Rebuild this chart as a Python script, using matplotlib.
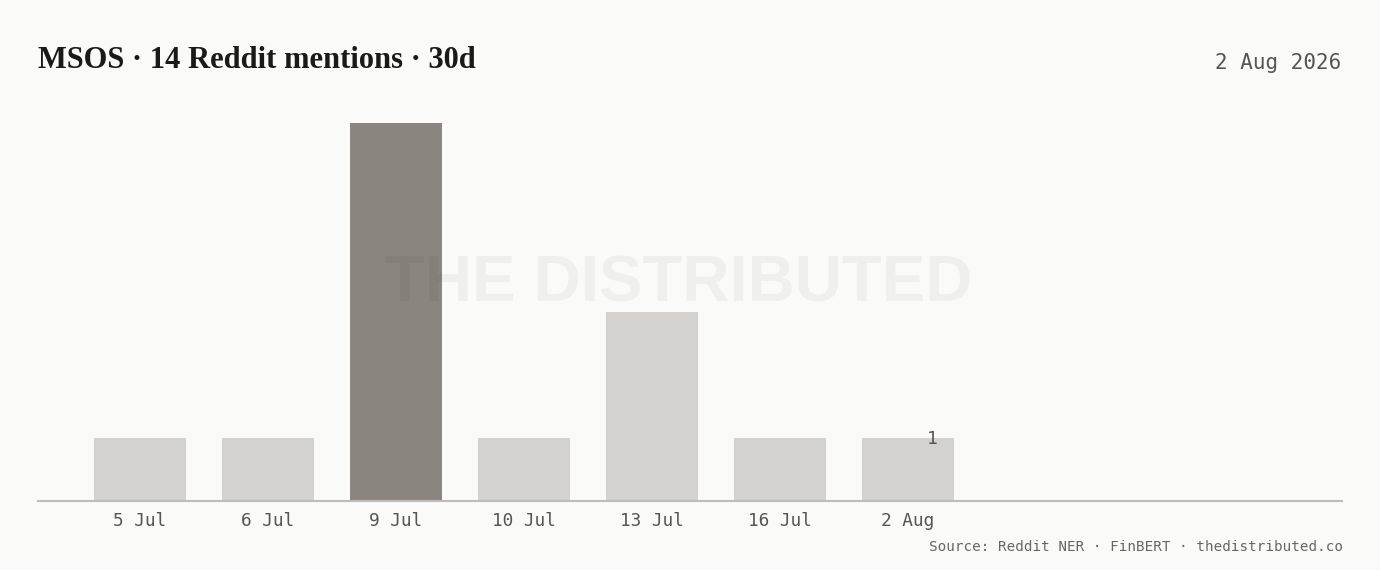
import matplotlib
matplotlib.use("Agg")
import matplotlib.pyplot as plt

# mentions per day, last 30 days
days = ["5 Jul", "6 Jul", "9 Jul", "10 Jul", "13 Jul", "16 Jul", "2 Aug"]
mentions = [1, 1, 6, 1, 3, 1, 1]
peak_day = "9 Jul"
last_label = "1"

title = "MSOS · 14 Reddit mentions · 30d"
date_text = "2 Aug 2026"
source_text = "Source: Reddit NER · FinBERT · thedistributed.co"

bg = "#fafaf8"
bar_light = "#d3d2ce"
bar_dark = "#8a857e"
mono = ["DejaVu Sans Mono"]

W, H = 1380, 570
fig = plt.figure(figsize=(W / 100, H / 100), dpi=100, facecolor=bg)

# axes placed in pixel terms: baseline at y=501, from x=38 to x=1342
ymax = 6.5
px_per_unit = 63.0
ax_h = ymax * px_per_unit
ax = fig.add_axes([38 / W, (H - 501) / H, (1342 - 38) / W, ax_h / H])
ax.set_facecolor(bg)

x = list(range(len(days)))
colors = [bar_dark if d == peak_day else bar_light for d in days]
ax.bar(x, mentions, width=0.72, color=colors, zorder=2)

# slot width 128 px, first center at x=140
slot = 128
ax.set_xlim((38 - 140) / slot, (1342 - 140) / slot)
ax.set_ylim(0, ymax)

ax.set_xticks(x)
ax.set_xticklabels(days, family=mono, fontsize=12.8, color="#555555")
ax.tick_params(axis="x", length=0, pad=8)
ax.set_yticks([])
for side in ["top", "right", "left"]:
    ax.spines[side].set_visible(False)
ax.spines["bottom"].set_color("#bdbdbb")
ax.spines["bottom"].set_linewidth(1.5)

# value label on the last bar
ax.text(x[-1] + 0.19, mentions[-1] - 0.02, last_label, ha="center", va="center",
        family=mono, fontsize=13, color="#555555", zorder=4)

# watermark
fig.text(385 / W, 1 - 285 / H, "THE DISTRIBUTED", ha="left", va="center",
         family=["Liberation Sans"], fontweight="bold", fontsize=47,
         color="black", alpha=0.045, zorder=5)

fig.text(38 / W, 1 - 60 / H, title, ha="left", va="center",
         family=["Liberation Serif"], fontweight="bold", fontsize=22,
         color="#1a1a1a")
fig.text(1341 / W, 1 - 63 / H, date_text, ha="right", va="center",
         family=mono, fontsize=15, color="#555555")
fig.text(1343 / W, 1 - 547 / H, source_text, ha="right", va="center",
         family=mono, fontsize=10.3, color="#666666")

fig.savefig("out.png", dpi=100, facecolor=bg)
